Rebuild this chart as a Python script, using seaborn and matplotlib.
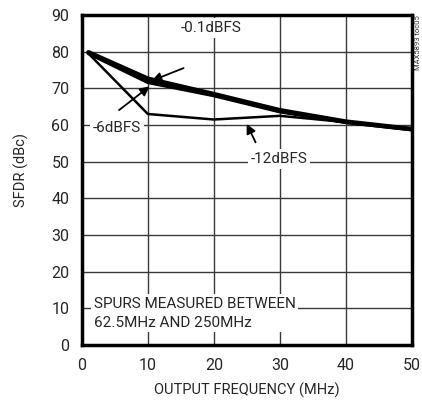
import numpy as np
import pandas as pd
import matplotlib
matplotlib.use("Agg")
import matplotlib.pyplot as plt
import seaborn as sns

# values
freq = [1, 10, 20, 30, 40, 50]
sfdr_01 = [79.8, 72.6, 68.4, 64.0, 60.9, 58.9]
sfdr_6 = [79.5, 71.6, 68.0, 63.6, 60.7, 58.7]
sfdr_12 = [79.5, 63.0, 61.5, 62.5, 60.8, 58.8]

x_ticks = [0, 10, 20, 30, 40, 50]
y_ticks = [0, 10, 20, 30, 40, 50, 60, 70, 80, 90]

sns.set_style("white")
plt.rcParams['font.family'] = ['Roboto', 'DejaVu Sans']

fig = plt.figure(figsize=(4.22, 4.05), dpi=100)
ax = fig.add_axes([0.194, 0.148, 0.782, 0.815])

df = pd.DataFrame({
    "freq": freq * 3,
    "sfdr": sfdr_01 + sfdr_6 + sfdr_12,
    "level": ["-0.1dBFS"] * 6 + ["-6dBFS"] * 6 + ["-12dBFS"] * 6,
})

sns.lineplot(data=df[df.level == "-0.1dBFS"], x="freq", y="sfdr", color="black", lw=3.4, ax=ax)
sns.lineplot(data=df[df.level == "-6dBFS"], x="freq", y="sfdr", color="black", lw=2.4, ax=ax)
sns.lineplot(data=df[df.level == "-12dBFS"], x="freq", y="sfdr", color="black", lw=1.8, ax=ax)

ax.set_xlim(0, 50)
ax.set_ylim(0, 90)
ax.set_xticks(x_ticks)
ax.set_yticks(y_ticks)
ax.grid(True, color="#3a3a3a", lw=1)
ax.set_axisbelow(True)
for s in ax.spines.values():
    s.set_visible(True)
    s.set_color("black")
    s.set_linewidth(2.5)
ax.tick_params(length=0, labelsize=11.5, pad=9)
ax.set_xlabel("OUTPUT FREQUENCY (MHz)", fontsize=10.5, labelpad=7)
ax.set_ylabel("SFDR (dBc)", fontsize=10.5)
ax.yaxis.set_label_coords(-0.16, 0.53)

fs = 11
box = dict(facecolor="white", edgecolor="none", pad=2)
arrow = dict(arrowstyle="-|>", color="black", lw=1.3, mutation_scale=14)
ax.text(19.6, 86.5, "-0.1dBFS", fontsize=fs, ha="center", va="center", bbox=box)
ax.annotate("", xy=(10.2, 71.8), xytext=(15.8, 75.8), arrowprops=arrow)
ax.text(5.3, 59.3, "-6dBFS", fontsize=fs, ha="center", va="center", bbox=box)
ax.annotate("", xy=(10.6, 71.0), xytext=(5.3, 63.6), arrowprops=arrow)
ax.text(29.9, 50.7, "-12dBFS", fontsize=fs, ha="center", va="center", bbox=box)
ax.annotate("", xy=(24.8, 61.0), xytext=(26.5, 54.6), arrowprops=arrow)

ax.text(1.8, 8.7, "SPURS MEASURED BETWEEN\n62.5MHz AND 250MHz", fontsize=fs,
        ha="left", va="center", linespacing=1.45, bbox=box)

fig.text(0.99, 0.963, "MAX5893 toc05", rotation=90, fontsize=5.5, ha="center", va="top",
         color="#333333")

fig.savefig("out.png", dpi=100)
